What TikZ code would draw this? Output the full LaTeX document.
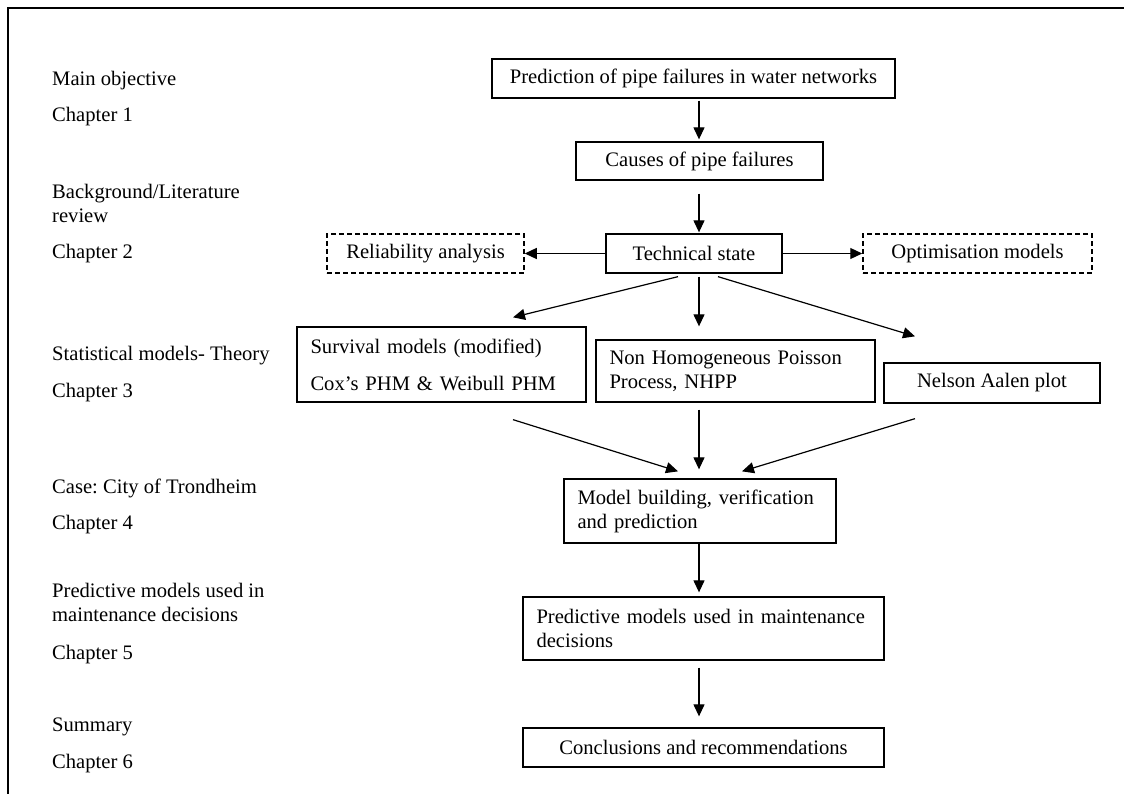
\documentclass[tikz,border=0pt]{standalone}
\usepackage{fontspec}
\setmainfont{Liberation Serif}
\usetikzlibrary{arrows.meta,calc}

\tikzset{
  box/.style={draw, line width=1.3pt, inner sep=0pt, minimum height=39pt},
  dbox/.style={box, line width=1.5pt, dash pattern=on 5pt off 3pt},
  lbox/.style={draw, line width=1.3pt, inner xsep=13.5pt, inner ysep=0pt, align=left},
  arr/.style={line width=1.2pt, -{Triangle[length=12pt,width=11pt]}},
  lbl/.style={anchor=base west, inner sep=0pt, align=left},
}

\begin{document}
\frenchspacing
\begin{tikzpicture}[x=1pt, y=-1pt, font=\fontsize{20.6}{24}\selectfont]
  \useasboundingbox (0,0) rectangle (1124,794);
  % open frame: top and left edges only
  \draw[line width=1.5pt] (1124,8) -- (8,8) -- (8,794);

  % chapter labels (two-line labels are placed by their last baseline)
  \node[lbl] (l1) at (52,85.5) {Main objective};
  \node[lbl] (c1) at (52,122) {Chapter 1};
  \node[lbl] (l2) at (52,223) {Background/Literature\\review};
  \node[lbl] (c2) at (52,259) {Chapter 2};
  \node[lbl] (l3) at (52,360) {Statistical models- Theory};
  \node[lbl] (c3) at (52,397) {Chapter 3};
  \node[lbl] (l4) at (52,493) {Case: City of Trondheim};
  \node[lbl] (c4) at (52,529) {Chapter 4};
  \node[lbl] (l5) at (52,621) {Predictive models used in\\maintenance decisions};
  \node[lbl] (c5) at (52,659) {Chapter 5};
  \node[lbl] (l6) at (52,731) {Summary};
  \node[lbl] (c6) at (52,768) {Chapter 6};

  % flow boxes
  \node[box, minimum width=403pt] (obj) at (693.5,78.5) {Prediction of pipe failures in water networks};
  \node[box, minimum width=247pt, minimum height=38pt] (causes) at (699.5,161) {Causes of pipe failures};
  \node[box, minimum width=176pt] (tech) at (694,253.5) {Technical state};
  \node[dbox, minimum width=197pt] (rel) at (425.5,253.5) {Reliability analysis};
  \node[dbox, minimum width=229pt] (opt) at (977.5,253.5) {Optimisation models};
  \node[lbox, text width=262pt, minimum height=75pt] (surv) at (441.5,364.5)
    {Survival models (modified)\\[13pt]Cox’s PHM \& Weibull PHM};
  \node[lbox, text width=252pt, minimum height=62pt] (nhpp) at (735.5,371)
    {Non Homogeneous Poisson\\Process, NHPP};
  \node[box, minimum width=216pt, minimum height=40pt] (nel) at (992,383) {Nelson Aalen plot};
  \node[lbox, text width=245pt, minimum height=64pt] (model) at (700,511)
    {Model building, verification\\and prediction};
  \node[lbox, text width=334pt, minimum height=63pt] (pred) at (703.5,628.5)
    {Predictive models used in maintenance\\decisions};
  \node[box, minimum width=361pt] (concl) at (703.5,747.5) {Conclusions and recommendations};

  % vertical spine of the main flow
  \coordinate (spine) at (699,0);

  % connectors
  \draw[arr, shorten <=2pt, shorten >=2pt] (obj.south -| spine) -- (causes.north -| spine);
  \draw[arr, shorten <=13pt, shorten >=1pt] (causes.south -| spine) -- (tech.north -| spine);
  \draw[arr] (tech.west) -- (rel.east);
  \draw[arr] (tech.east) -- (opt.west);
  \draw[arr] ($(tech.south)+(-16,3)$) -- ($(surv.north)+(71.5,-9)$);
  \draw[arr, shorten <=3pt, shorten >=13pt] (tech.south -| spine) -- (nhpp.north -| spine);
  \draw[arr] ($(tech.south)+(24,3)$) -- ($(nel.north)+(-77,-26)$);
  \draw[arr] ($(surv.south)+(71.5,17)$) -- ($(model.north)+(-22,-7)$);
  \draw[arr, shorten <=7pt, shorten >=9pt] (nhpp.south -| spine) -- (model.north -| spine);
  \draw[arr] ($(nel.south)+(-77,15)$) -- ($(model.north)+(42,-7)$);
  \draw[arr, shorten >=4pt] (model.south -| spine) -- (pred.north -| spine);
  \draw[arr, shorten <=7pt, shorten >=11pt] (pred.south -| spine) -- (concl.north -| spine);
\end{tikzpicture}
\end{document}
